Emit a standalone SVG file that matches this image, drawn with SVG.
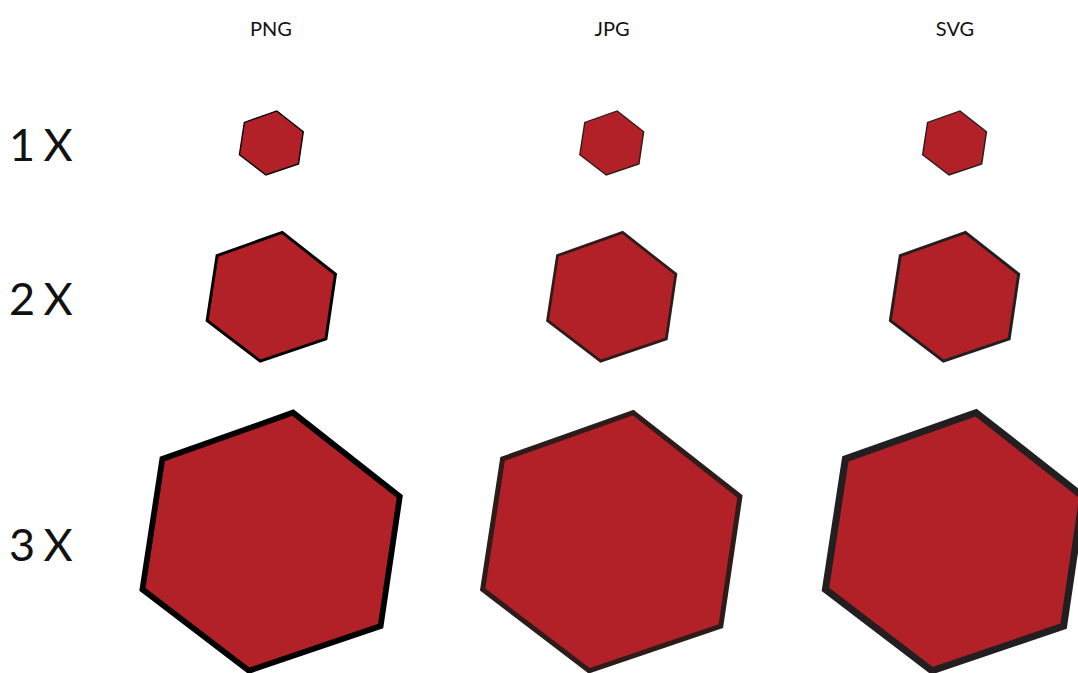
<svg xmlns="http://www.w3.org/2000/svg" xmlns:xlink="http://www.w3.org/1999/xlink" width="1078" height="673" viewBox="0 0 1078 673">
  <defs>
    <style>
      .hdr { font-family: Lato, "Liberation Sans", sans-serif; font-size: 20px; fill: #111; text-anchor: middle; }
      .row { font-family: Lato, "Liberation Sans", sans-serif; font-size: 45px; fill: #111; word-spacing: -3px; }
      .hex { fill: #b22128; stroke-linejoin: miter; stroke-width: 1.4; }
      .png { stroke: #000; }
      .jpg { stroke: #2e1c1a; }
      .svgc { stroke: #231f20; }
    </style>
    <path id="hex" d="M5.45,-32.5 L32.2,-11.5 L27.4,21 L-5.6,32.2 L-32.3,11.8 L-27.3,-20.9 Z"/>
  </defs>
  <rect width="1078" height="673" fill="#fff"/>

  <g id="headers">
    <text class="hdr" x="271" y="36">PNG</text>
    <text class="hdr" x="612" y="36">JPG</text>
    <text class="hdr" x="955" y="36">SVG</text>
  </g>
  <g id="row-labels">
    <text class="row" x="9" y="161">1 X</text>
    <text class="row" x="9" y="315">2 X</text>
    <text class="row" x="9" y="561">3 X</text>
  </g>

  <g id="png-1x"><use xlink:href="#hex" class="hex png" transform="translate(271.4,143.1) scale(0.99)"/></g>
  <g id="png-2x"><use xlink:href="#hex" class="hex png" transform="translate(271.4,297.1) scale(1.99)" style="stroke-width:1.5"/></g>
  <g id="png-3x"><use xlink:href="#hex" class="hex png" transform="translate(271.3,542.3) scale(3.99)" style="stroke-width:1.45"/></g>

  <g id="jpg-1x"><use xlink:href="#hex" class="hex jpg" transform="translate(611.8,143.1) scale(0.99)"/></g>
  <g id="jpg-2x"><use xlink:href="#hex" class="hex jpg" transform="translate(611.8,297.1) scale(1.99)" style="stroke-width:1.4"/></g>
  <g id="jpg-3x"><use xlink:href="#hex" class="hex jpg" transform="translate(611.5,542.3) scale(3.99)" style="stroke-width:1.25"/></g>

  <g id="svg-1x"><use xlink:href="#hex" class="hex svgc" transform="translate(954.6,143.1) scale(0.99)"/></g>
  <g id="svg-2x"><use xlink:href="#hex" class="hex svgc" transform="translate(954.6,297.1) scale(1.99)" style="stroke-width:1.5"/></g>
  <g id="svg-3x"><use xlink:href="#hex" class="hex svgc" transform="translate(954.3,542.3) scale(3.99)" style="stroke-width:1.75"/></g>

  <g id="connectors"/>
</svg>
